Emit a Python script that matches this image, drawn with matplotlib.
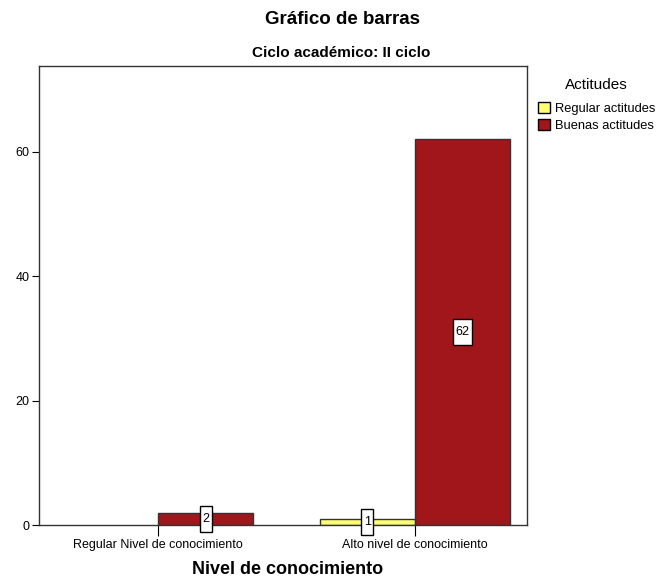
import matplotlib
matplotlib.use("Agg")
import matplotlib.pyplot as plt
import numpy as np
from matplotlib.patches import Patch
from matplotlib.path import Path

categories = ["Regular Nivel de conocimiento", "Alto nivel de conocimiento"]
series_names = ["Regular actitudes", "Buenas actitudes"]
regular_vals = [0, 1]
buenas_vals = [2, 62]
colors = ["#FFFF73", "#A0161A"]

plt.rcParams['font.family'] = ['Liberation Sans', 'DejaVu Sans']

fig = plt.figure(figsize=(6.7, 5.81), dpi=100)
ax = fig.add_axes([39/670, 1-525/581, (527-39)/670, (525-66)/581])


def tallbox(x0, y0, width, height, mutation_size):
    px = mutation_size * 0.2
    py = mutation_size * 0.55
    x0 -= px; y0 -= py
    x1 = x0 + width + 2 * px
    y1 = y0 + height + 2 * py
    return Path([(x0, y0), (x1, y0), (x1, y1), (x0, y1), (x0, y0)],
                closed=True)


x = np.arange(len(categories))
w = 0.37
for vals, off, c in [(regular_vals, -w/2, colors[0]), (buenas_vals, w/2, colors[1])]:
    for xi, v in zip(x, vals):
        if v > 0:
            ax.bar(xi + off, v, width=w, color=c, edgecolor="#333333", linewidth=1.0)
            ax.text(xi + off, v/2, str(v), ha="center", va="center", fontsize=9,
                    zorder=5,
                    bbox=dict(boxstyle=tallbox, fc="white", ec="black", lw=1))

ax.set_xlim(-0.463, 1.436)
ax.set_ylim(0, 73.8)
ax.set_xticks(x)
ax.set_xticklabels(categories, fontsize=9)
ax.set_yticks([0, 20, 40, 60])
ax.tick_params(axis='y', labelsize=9, length=5, direction='out', pad=2)
ax.tick_params(axis='x', length=8, direction='out', pad=2)
for s in ax.spines.values():
    s.set_color("#333333")
    s.set_linewidth(1.0)

fig.text(288/670, 1-570/581,
         "Nivel de conocimiento", ha="center", va="center", fontsize=13, fontweight="bold")
fig.text(342/670, 1-20/581, "Gráfico de barras", ha="center", va="center",
         fontsize=13.5, fontweight="bold")
fig.text(341/670, 1-53/581,
         "Ciclo académico: II ciclo", ha="center", va="center", fontsize=11, fontweight="bold")

handles = [Patch(facecolor=colors[0], edgecolor="black"), Patch(facecolor=colors[1], edgecolor="black")]
leg = fig.legend(handles, series_names, loc="upper left", bbox_to_anchor=(538/670, 1-78/581),
                 frameon=False, fontsize=9.3, title="Actitudes", title_fontsize=11,
                 handlelength=0.95, handleheight=0.95, handletextpad=0.35, labelspacing=0.35,
                 borderaxespad=0, borderpad=0)
leg._legend_box.sep = 7

fig.savefig("out.png", dpi=100)
